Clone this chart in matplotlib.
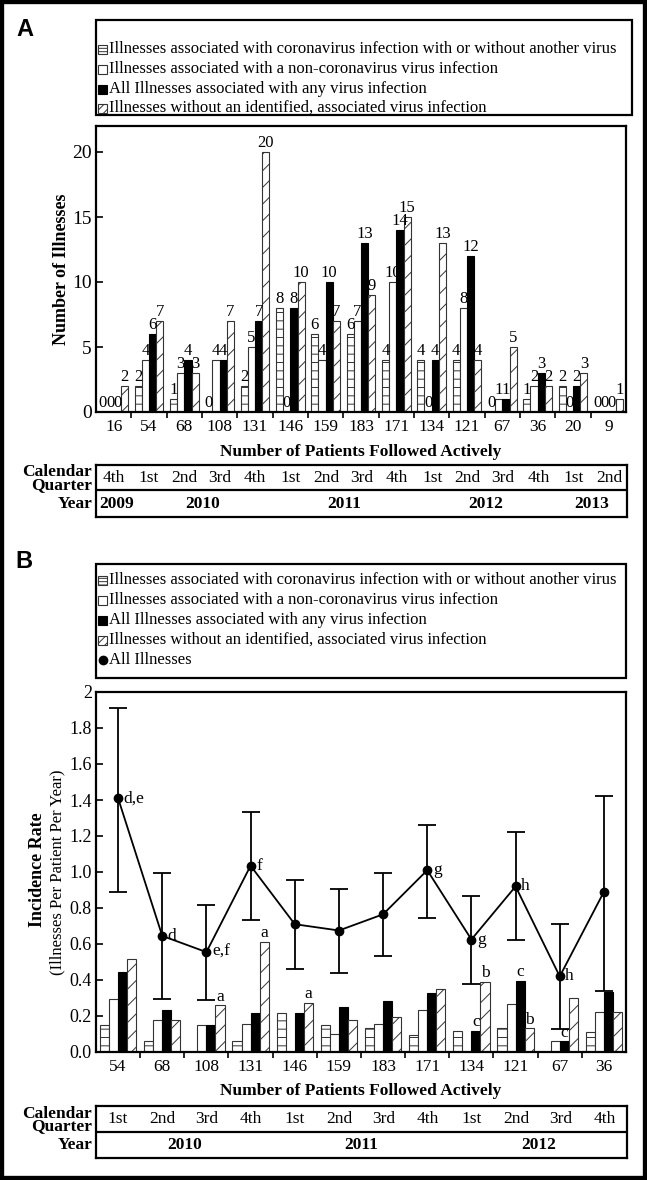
import matplotlib
matplotlib.use('Agg')
import matplotlib.pyplot as plt
from matplotlib.patches import Rectangle

plt.rcParams['font.family'] = ['Liberation Serif', 'DejaVu Serif']
plt.rcParams['hatch.linewidth'] = 0.7

# ---- panel A data (counts per quarter) ----
patients_a = ['16', '54', '68', '108', '131', '146', '159', '183', '171', '134', '121', '67', '36', '20', '9']
quarters_a = ['4th', '1st', '2nd', '3rd', '4th', '1st', '2nd', '3rd', '4th', '1st', '2nd', '3rd', '4th', '1st', '2nd']
years_a = [('2009', 0, 0), ('2010', 1, 4), ('2011', 5, 8), ('2012', 9, 12), ('2013', 13, 14)]
corona_a = [0, 2, 1, 0, 2, 8, 6, 6, 4, 4, 4, 0, 1, 2, 0]
noncorona_a = [0, 4, 3, 4, 5, 0, 4, 7, 10, 0, 8, 1, 2, 0, 0]
anyvirus_a = [0, 6, 4, 4, 7, 8, 10, 13, 14, 4, 12, 1, 3, 2, 0]
novirus_a = [2, 7, 3, 7, 20, 10, 7, 9, 15, 13, 4, 5, 2, 3, 1]

# ---- panel B data (incidence rates) ----
patients_b = ['54', '68', '108', '131', '146', '159', '183', '171', '134', '121', '67', '36']
quarters_b = ['1st', '2nd', '3rd', '4th', '1st', '2nd', '3rd', '4th', '1st', '2nd', '3rd', '4th']
years_b = [('2010', 0, 3), ('2011', 4, 7), ('2012', 8, 11)]
corona_b = [0.148, 0.059, 0.0, 0.061, 0.219, 0.151, 0.131, 0.094, 0.119, 0.132, 0.0, 0.111]
noncorona_b = [0.296, 0.176, 0.148, 0.153, 0.0, 0.101, 0.153, 0.234, 0.0, 0.264, 0.060, 0.222]
anyvirus_b = [0.444, 0.235, 0.148, 0.214, 0.219, 0.252, 0.284, 0.327, 0.119, 0.397, 0.060, 0.333]
novirus_b = [0.519, 0.176, 0.259, 0.611, 0.274, 0.176, 0.197, 0.351, 0.388, 0.132, 0.299, 0.222]
all_b = [1.41, 0.645, 0.555, 1.035, 0.71, 0.675, 0.765, 1.01, 0.625, 0.92, 0.42, 0.89]
all_lo = [0.89, 0.295, 0.29, 0.735, 0.46, 0.44, 0.535, 0.745, 0.38, 0.625, 0.13, 0.34]
all_hi = [1.91, 0.995, 0.815, 1.335, 0.955, 0.905, 0.995, 1.26, 0.865, 1.22, 0.71, 1.425]
point_notes = ['d,e', 'd', 'e,f', 'f', '', '', '', 'g', 'g', 'h', 'h', '']
# (group, series, letter)  series: 2 = any virus, 3 = no virus
bar_notes = [(2, 3, 'a'), (3, 3, 'a'), (4, 3, 'a'), (8, 3, 'b'), (9, 3, 'b'),
             (8, 2, 'c'), (9, 2, 'c'), (10, 2, 'c')]

legend_labels = ['Illnesses associated with coronavirus infection with or without another virus',
                 'Illnesses associated with a non-coronavirus virus infection',
                 'All Illnesses associated with any virus infection',
                 'Illnesses without an identified, associated virus infection']

styles = [dict(facecolor='white', edgecolor='#333333', hatch='--'),
          dict(facecolor='white', edgecolor='#333333'),
          dict(facecolor='black', edgecolor='black'),
          dict(facecolor='white', edgecolor='#333333', hatch='//')]
legend_hatch = ['-----', None, None, '////']

W, H = 647, 1180
fig = plt.figure(figsize=(W / 100, H / 100), dpi=100)


def box(x0, y0, x1, y1):
    return [x0 / W, 1 - y1 / H, (x1 - x0) / W, (y1 - y0) / H]


ov = fig.add_axes([0, 0, 1, 1], zorder=5)
ov.set_xlim(0, W)
ov.set_ylim(H, 0)
ov.axis('off')
ov.patch.set_alpha(0)


def bars(ax, series, width, lw):
    n = len(series[0])
    xs = []
    for k, vals in enumerate(series):
        x = [i + (k - 1.5) * width for i in range(n)]
        ax.bar(x, vals, width, linewidth=lw, zorder=2, **styles[k])
        xs.append(x)
    return xs


def style_axes(ax, labels, ylim, yticks, yticklabels, ysize):
    n = len(labels)
    ax.set_xlim(-0.5, n - 0.5)
    ax.set_ylim(*ylim)
    ax.set_xticks(range(n))
    ax.set_xticklabels(labels, fontsize=12.5)
    ax.set_xticks([i + 0.5 for i in range(n - 1)], minor=True)
    ax.tick_params(axis='x', which='major', length=0, pad=5)
    ax.tick_params(axis='x', which='minor', length=4, width=1.2, direction='out')
    ax.set_yticks(yticks)
    ax.set_yticklabels(yticklabels, fontsize=ysize)
    ax.tick_params(axis='y', direction='in', length=5, width=1.2, pad=3)
    for s in ax.spines.values():
        s.set_linewidth(1.6)


def legend(x0, y0, x1, y1, rows, labels, dot=None):
    ov.add_patch(Rectangle((x0, y0), x1 - x0, y1 - y0, fill=False, lw=1.6, ec='black'))
    for k, (lab, yy) in enumerate(zip(labels, rows)):
        st = dict(styles[k])
        if legend_hatch[k]:
            st['hatch'] = legend_hatch[k]
        ov.add_patch(Rectangle((x0 + 2, yy - 4.5), 9, 9, lw=0.8, **st))
        ov.text(x0 + 13, yy, lab, ha='left', va='center', fontsize=12)
    if dot is not None:
        ov.plot(x0 + 6.5, rows[-1], 'o', color='black', ms=6)
        ov.text(x0 + 13, rows[-1], dot, ha='left', va='center', fontsize=12)


def table(ax, top, mid, bot, quarters, years):
    t = fig.add_axes(box(96, top, 627, bot))
    t.set_xlim(ax.get_xlim())
    t.set_ylim(bot - top, 0)
    t.set_xticks([])
    t.set_yticks([])
    for s in t.spines.values():
        s.set_linewidth(1.6)
    t.axhline(mid - top, color='black', lw=1.6)
    for i, q in enumerate(quarters):
        t.text(i, (mid - top) / 2, q, ha='center', va='center', fontsize=12.5)
    for yr, a, b in years:
        if a == b == 0:
            t.text(-0.42, mid - top + (bot - mid) / 2, yr, ha='left', va='center',
                   fontsize=12.5, fontweight='bold')
        else:
            t.text((a + b) / 2, mid - top + (bot - mid) / 2, yr, ha='center', va='center',
                   fontsize=12.5, fontweight='bold')
    ov.text(92, (top + mid) / 2 + 1, 'Calendar\nQuarter', ha='right', va='center',
            fontsize=12.5, fontweight='bold', linespacing=0.75)
    ov.text(92, (mid + bot) / 2, 'Year', ha='right', va='center', fontsize=12.5, fontweight='bold')


# ================= Panel A =================
axA = fig.add_axes(box(96, 126, 626, 412))
series_a = [corona_a, noncorona_a, anyvirus_a, novirus_a]
xs_a = bars(axA, series_a, 0.205, 0.8)
for x, vals in zip(xs_a, series_a):
    for xi, v in zip(x, vals):
        axA.text(xi, v + 0.1, str(v), ha='center', va='bottom', fontsize=12)
style_axes(axA, patients_a, (0, 22), [0, 5, 10, 15, 20], ['0', '5', '10', '15', '20'], 14)

legend(96, 20, 632, 115, [49, 69, 89, 108], legend_labels)
table(axA, 465, 490, 517, quarters_a, years_a)
ov.text(361, 452, 'Number of Patients Followed Actively', ha='center', va='center',
        fontsize=12.5, fontweight='bold')
ov.text(61, 269, 'Number of Illnesses', ha='center', va='center', rotation=90,
        fontsize=13, fontweight='bold')
ov.text(25, 30, 'A', ha='center', va='center', fontsize=17, fontweight='bold',
        family='Liberation Sans')

# ================= Panel B =================
axB = fig.add_axes(box(96, 692, 626, 1052))
series_b = [corona_b, noncorona_b, anyvirus_b, novirus_b]
xs_b = bars(axB, series_b, 0.205, 0.8)
n_b = len(all_b)
yerr = [[a - l for a, l in zip(all_b, all_lo)], [h - a for a, h in zip(all_b, all_hi)]]
axB.errorbar(range(n_b), all_b, yerr=yerr, fmt='-o', color='black', lw=1.3, ms=6,
             capsize=6.5, elinewidth=1.3, capthick=1.3, zorder=4)
for i, txt in enumerate(point_notes):
    if txt:
        axB.annotate(txt, (i, all_b[i]), xytext=(4, 0), textcoords='offset points',
                     ha='left', va='center', fontsize=12.5, zorder=5)
for g, k, letter in bar_notes:
    axB.annotate(letter, (xs_b[k][g], series_b[k][g]), xytext=(0, 0.5),
                 textcoords='offset points', ha='center', va='bottom', fontsize=12.5, zorder=5)
yt = [0.0, 0.2, 0.4, 0.6, 0.8, 1.0, 1.2, 1.4, 1.6, 1.8, 2.0]
ytl = ['0.0', '0.2', '0.4', '0.6', '0.8', '1.0', '1.2', '1.4', '1.6', '1.8', '2']
style_axes(axB, patients_b, (0, 2), yt, ytl, 13)

legend(96, 564, 626, 678, [580, 600, 620, 640, 660], legend_labels, dot='All Illnesses')
table(axB, 1106, 1132, 1158, quarters_b, years_b)
ov.text(361, 1091, 'Number of Patients Followed Actively', ha='center', va='center',
        fontsize=12.5, fontweight='bold')
ov.text(38, 870, 'Incidence Rate', ha='center', va='center', rotation=90,
        fontsize=13, fontweight='bold')
ov.text(57, 872, '(Illnesses Per Patient Per Year)', ha='center', va='center', rotation=90,
        fontsize=12)
ov.text(24, 561, 'B', ha='center', va='center', fontsize=17, fontweight='bold',
        family='Liberation Sans')

# outer frame
ov.add_patch(Rectangle((0, 0), W, H, fill=False, lw=6, ec='black', clip_on=False))

fig.savefig('out.png', dpi=100)
